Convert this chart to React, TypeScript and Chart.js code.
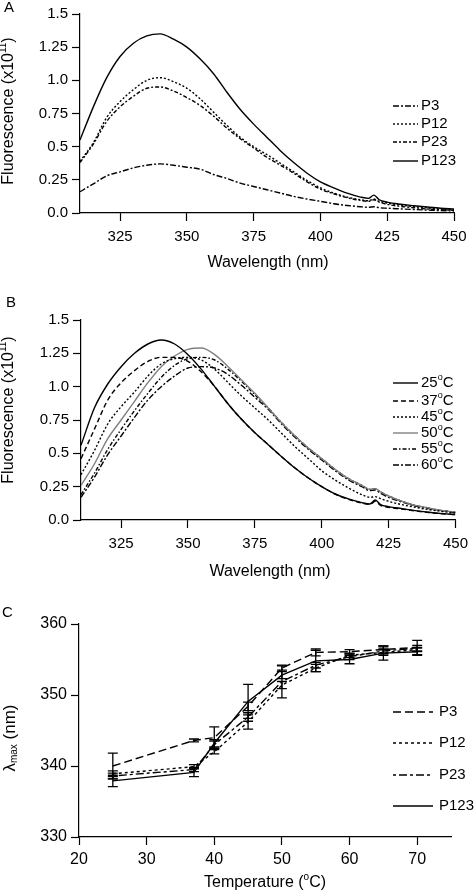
import React, { useEffect, useRef } from 'react';
import { Chart, registerables } from 'chart.js';

Chart.register(...registerables);

const FONT = "'Liberation Sans', Arial, Helvetica, 'DejaVu Sans', sans-serif";

// ---------- Panel A / B : emission spectra ----------
const wavelengths = [310, 315, 320, 325, 330, 335, 340, 345, 350, 355, 360, 365, 370, 375, 380, 385, 390, 395, 400, 405, 410, 415, 418, 420, 422, 425, 430, 435, 440, 445, 450];

const aP3 = [0.16, 0.22, 0.28, 0.31, 0.34, 0.36, 0.37, 0.36, 0.345, 0.33, 0.29, 0.26, 0.225, 0.2, 0.175, 0.15, 0.125, 0.105, 0.088, 0.07, 0.057, 0.047, 0.043, 0.047, 0.04, 0.036, 0.031, 0.026, 0.022, 0.018, 0.015];
const aP12 = [0.39, 0.53, 0.72, 0.84, 0.93, 1.0, 1.02, 0.99, 0.94, 0.86, 0.76, 0.66, 0.57, 0.5, 0.44, 0.375, 0.31, 0.245, 0.19, 0.15, 0.12, 0.1, 0.092, 0.105, 0.088, 0.075, 0.06, 0.048, 0.038, 0.03, 0.025];
const aP23 = [0.38, 0.52, 0.69, 0.8, 0.88, 0.94, 0.95, 0.92, 0.87, 0.81, 0.73, 0.64, 0.56, 0.49, 0.42, 0.36, 0.3, 0.235, 0.18, 0.145, 0.115, 0.095, 0.088, 0.1, 0.082, 0.065, 0.05, 0.04, 0.03, 0.025, 0.02];
const aP123 = [0.55, 0.8, 1.02, 1.18, 1.28, 1.335, 1.35, 1.31, 1.25, 1.16, 1.05, 0.91, 0.78, 0.67, 0.57, 0.47, 0.38, 0.3, 0.235, 0.19, 0.15, 0.12, 0.11, 0.135, 0.1, 0.082, 0.066, 0.055, 0.045, 0.036, 0.03];

const b25 = [0.56, 0.84, 1.02, 1.15, 1.25, 1.32, 1.35, 1.32, 1.24, 1.13, 1.0, 0.87, 0.755, 0.655, 0.565, 0.475, 0.39, 0.315, 0.25, 0.195, 0.158, 0.13, 0.12, 0.15, 0.115, 0.1, 0.085, 0.07, 0.058, 0.048, 0.04];
const b37 = [0.46, 0.68, 0.9, 1.03, 1.12, 1.19, 1.22, 1.22, 1.19, 1.11, 1.0, 0.87, 0.755, 0.655, 0.565, 0.475, 0.39, 0.315, 0.25, 0.195, 0.155, 0.127, 0.117, 0.14, 0.11, 0.095, 0.082, 0.068, 0.056, 0.047, 0.04];
const b45 = [0.34, 0.52, 0.72, 0.85, 0.96, 1.08, 1.17, 1.21, 1.22, 1.2, 1.13, 1.03, 0.93, 0.84, 0.75, 0.65, 0.55, 0.46, 0.37, 0.3, 0.24, 0.19, 0.17, 0.175, 0.16, 0.14, 0.115, 0.095, 0.078, 0.064, 0.052];
const b50 = [0.26, 0.42, 0.61, 0.75, 0.89, 1.03, 1.15, 1.23, 1.28, 1.29, 1.24, 1.15, 1.05, 0.95, 0.84, 0.73, 0.63, 0.54, 0.46, 0.38, 0.31, 0.26, 0.23, 0.235, 0.21, 0.18, 0.14, 0.11, 0.09, 0.07, 0.06];
const b55 = [0.19, 0.35, 0.53, 0.68, 0.82, 0.95, 1.07, 1.16, 1.21, 1.22, 1.2, 1.13, 1.04, 0.94, 0.84, 0.73, 0.63, 0.54, 0.46, 0.38, 0.31, 0.26, 0.23, 0.235, 0.21, 0.18, 0.14, 0.11, 0.09, 0.07, 0.06];
const b60 = [0.17, 0.32, 0.49, 0.63, 0.77, 0.9, 1.0, 1.08, 1.14, 1.15, 1.14, 1.09, 1.01, 0.92, 0.83, 0.72, 0.62, 0.53, 0.45, 0.37, 0.3, 0.25, 0.22, 0.225, 0.2, 0.17, 0.135, 0.105, 0.085, 0.07, 0.055];

const specXTicks = [325, 350, 375, 400, 425, 450];
const specYTicks = [0, 0.25, 0.5, 0.75, 1.0, 1.25, 1.5];
const specYTickLabels = ['0.0', '0.25', '0.5', '0.75', '1.0', '1.25', '1.5'];

const aLabels = ['P3', 'P12', 'P23', 'P123'];
const bTemps = ['25', '37', '45', '50', '55', '60'];

// ---------- Panel C : lambda max vs temperature ----------
const temps = [25, 37, 40, 45, 50, 55, 60, 65, 70];
const cP3 = [340.0, 343.6, 344.0, 348.4, 353.8, 356.0, 356.1, 356.4, 356.7];
const cP12 = [338.9, 339.9, 342.0, 346.2, 351.4, 353.8, 355.6, 356.0, 356.4];
const cP23 = [338.6, 339.5, 343.0, 346.9, 351.9, 354.2, 355.4, 356.2, 356.6];
const cP123 = [337.9, 339.1, 343.2, 349.1, 352.8, 354.8, 355.0, 355.9, 356.1];
const cP3err = [1.8, 0.2, 1.5, 0.6, 0.3, 0.5, 0.3, 0.5, 1.0];
const cP12err = [0.4, 0.3, 0.3, 1.0, 0.5, 0.5, 0.3, 0.4, 0.3];
const cP23err = [0.4, 0.3, 0.5, 0.6, 2.3, 0.4, 0.4, 0.4, 0.4];
const cP123err = [0.8, 0.6, 0.5, 2.4, 0.5, 1.5, 0.6, 1.0, 0.5];
const cXTicks = [20, 30, 40, 50, 60, 70];
const cYTicks = [330, 340, 350, 360];
const cLabels = ['P3', 'P12', 'P23', 'P123'];

type Seg = { t: string; s: number; dy?: number };

function drawSegs(ctx: CanvasRenderingContext2D, segs: Seg[], x: number, y: number, rot: number, center: boolean) {
  ctx.save();
  ctx.translate(x, y);
  if (rot) ctx.rotate(rot);
  ctx.textBaseline = 'middle';
  ctx.textAlign = 'left';
  ctx.fillStyle = '#000';
  const widths = segs.map((sg) => {
    ctx.font = `${sg.s}px ${FONT}`;
    return ctx.measureText(sg.t).width;
  });
  const total = widths.reduce((a, b) => a + b, 0);
  let cx = center ? -total / 2 : 0;
  segs.forEach((sg, i) => {
    ctx.font = `${sg.s}px ${FONT}`;
    ctx.fillText(sg.t, cx, sg.dy || 0);
    cx += widths[i];
  });
  ctx.restore();
}

interface LegendItem { label: Seg[]; dash: number[]; color: string }
interface PanelCfg {
  height: number;
  top: number;
  xMin: number; xMax: number; yMin: number; yMax: number;
  xTicks: number[]; yTicks: number[]; yTickLabels: string[];
  yWidth: number; xHeight: number;
  padding: { left: number; right: number; top: number; bottom: number };
  tickSize: number;
  xTickPad: number;
  smooth: boolean;
  datasets: { xs: number[]; ys: number[]; color: string; dash: number[] }[];
  letter: { t: string; x: number; y: number };
  xTitle: { segs: Seg[]; x: number; y: number };
  yTitle: { segs: Seg[]; x: number; y: number };
  legend: { items: LegendItem[]; x1: number; x2: number; tx: number; ys: number[] };
  errors?: { xs: number[]; ys: number[][]; errs: number[][] };
}

const sup = (base: string, s: string, after: string, size: number): Seg[] => [
  { t: base, s: size },
  { t: s, s: Math.round(size * 0.6), dy: -Math.round(size * 0.35) },
  { t: after, s: size },
];

const aDash = [[6, 2, 2, 2], [2, 2], [4, 2, 2, 2], []];
const bDash = [[], [5, 3], [2, 2], [], [4, 2, 1.5, 2], [6, 2, 2, 2]];
const bColors = ['#000', '#000', '#000', '#808080', '#000', '#000'];
const cDash = [[8, 4], [3, 3], [3, 3, 8, 3], []];

const panelA: PanelCfg = {
  height: 280, top: 0,
  xMin: 310, xMax: 450, yMin: 0, yMax: 1.5,
  xTicks: specXTicks, yTicks: specYTicks, yTickLabels: specYTickLabels,
  yWidth: 80, xHeight: 67,
  padding: { left: 0, right: 21, top: 14, bottom: 0 },
  tickSize: 15, xTickPad: 7, smooth: true,
  datasets: [aP3, aP12, aP23, aP123].map((ys, i) => ({ xs: wavelengths, ys, color: '#000', dash: aDash[i] })),
  letter: { t: 'A', x: 4, y: 0 },
  xTitle: { segs: [{ t: 'Wavelength (nm)', s: 16 }], x: 268, y: 263 },
  yTitle: { segs: sup('Fluorescence (x10', '11', ')', 16), x: 9, y: 111 },
  legend: {
    items: aLabels.map((l, i) => ({ label: [{ t: l, s: 15 }], dash: aDash[i], color: '#000' })),
    x1: 393, x2: 418, tx: 421, ys: [106, 124, 142, 161],
  },
};

const panelB: PanelCfg = {
  height: 300, top: 285,
  xMin: 310, xMax: 450, yMin: 0, yMax: 1.5,
  xTicks: specXTicks, yTicks: specYTicks, yTickLabels: specYTickLabels,
  yWidth: 81, xHeight: 65,
  padding: { left: 0, right: 17, top: 35, bottom: 0 },
  tickSize: 15, xTickPad: 7, smooth: true,
  datasets: [b25, b37, b45, b50, b55, b60].map((ys, i) => ({ xs: wavelengths, ys, color: bColors[i], dash: bDash[i] })),
  letter: { t: 'B', x: 6, y: 10 },
  xTitle: { segs: [{ t: 'Wavelength (nm)', s: 16 }], x: 270, y: 287 },
  yTitle: { segs: sup('Fluorescence (x10', '11', ')', 16), x: 9, y: 125 },
  legend: {
    items: bTemps.map((l, i) => ({ label: sup(l, 'o', 'C', 15), dash: bDash[i], color: bColors[i] })),
    x1: 393, x2: 418, tx: 421, ys: [98, 116, 132, 148, 164, 180],
  },
};

const panelC: PanelCfg = {
  height: 305, top: 590,
  xMin: 20, xMax: 75, yMin: 330, yMax: 360,
  xTicks: cXTicks, yTicks: cYTicks, yTickLabels: cYTicks.map(String),
  yWidth: 79, xHeight: 58,
  padding: { left: 0, right: 24, top: 34, bottom: 0 },
  tickSize: 16, xTickPad: 5, smooth: false,
  datasets: [cP3, cP12, cP23, cP123].map((ys, i) => ({ xs: temps, ys, color: '#000', dash: cDash[i] })),
  letter: { t: 'C', x: 2, y: 15 },
  xTitle: { segs: sup('Temperature (', 'o', 'C)', 16), x: 265, y: 293 },
  yTitle: {
    segs: [{ t: '\u03bb', s: 17 }, { t: 'max', s: 10, dy: 4 }, { t: ' (nm)', s: 17 }],
    x: 10, y: 148,
  },
  legend: {
    items: cLabels.map((l, i) => ({ label: [{ t: l, s: 15 }], dash: cDash[i], color: '#000' })),
    x1: 393, x2: 433, tx: 439, ys: [122, 153, 185, 216],
  },
  errors: { xs: temps, ys: [cP3, cP12, cP23, cP123], errs: [cP3err, cP12err, cP23err, cP123err] },
};

function buildChart(canvas: HTMLCanvasElement, cfg: PanelCfg) {
  const decor = {
    id: 'decor',
    afterDatasetsDraw(chart: any) {
      if (!cfg.errors) return;
      const ctx: CanvasRenderingContext2D = chart.ctx;
      const xs = chart.scales.x;
      const ys = chart.scales.y;
      ctx.save();
      ctx.strokeStyle = '#000';
      ctx.lineWidth = 1.3;
      ctx.setLineDash([]);
      cfg.errors.ys.forEach((serie, si) => {
        serie.forEach((v, j) => {
          const e = cfg.errors!.errs[si][j];
          const px = xs.getPixelForValue(cfg.errors!.xs[j]);
          const y1 = ys.getPixelForValue(v - e);
          const y2 = ys.getPixelForValue(v + e);
          ctx.beginPath();
          ctx.moveTo(px, y1); ctx.lineTo(px, y2);
          ctx.moveTo(px - 5, y1); ctx.lineTo(px + 5, y1);
          ctx.moveTo(px - 5, y2); ctx.lineTo(px + 5, y2);
          ctx.stroke();
        });
      });
      ctx.restore();
    },
    afterDraw(chart: any) {
      const ctx: CanvasRenderingContext2D = chart.ctx;
      ctx.save();
      ctx.fillStyle = '#000';
      ctx.font = `15px ${FONT}`;
      ctx.textBaseline = 'top';
      ctx.textAlign = 'left';
      ctx.fillText(cfg.letter.t, cfg.letter.x, cfg.letter.y);
      drawSegs(ctx, cfg.xTitle.segs, cfg.xTitle.x, cfg.xTitle.y, 0, true);
      drawSegs(ctx, cfg.yTitle.segs, cfg.yTitle.x, cfg.yTitle.y, -Math.PI / 2, true);
      const lg = cfg.legend;
      lg.items.forEach((it, i) => {
        const y = lg.ys[i];
        ctx.save();
        ctx.strokeStyle = it.color;
        ctx.lineWidth = 1.4;
        ctx.setLineDash(it.dash);
        ctx.beginPath();
        ctx.moveTo(lg.x1, y);
        ctx.lineTo(lg.x2, y);
        ctx.stroke();
        ctx.restore();
        drawSegs(ctx, it.label, lg.tx, y, 0, false);
      });
      ctx.restore();
    },
  };

  const axisCommon = () => ({
    type: 'linear' as const,
    grid: { drawOnChartArea: false, drawTicks: true, tickLength: 8, tickColor: '#000', tickWidth: 1.2, color: '#000' },
    border: { display: true, color: '#000', width: 1.2 },
    title: { display: false },
  });

  return new Chart(canvas, {
    type: 'line',
    data: {
      datasets: cfg.datasets.map((d) => ({
        data: d.xs.map((x, i) => ({ x, y: d.ys[i] })),
        borderColor: d.color,
        borderWidth: 1.4,
        borderDash: d.dash,
        fill: false,
        pointRadius: 0,
        pointHoverRadius: 0,
        cubicInterpolationMode: cfg.smooth ? ('monotone' as const) : ('default' as const),
        tension: 0,
      })),
    },
    options: {
      animation: false,
      responsive: false,
      maintainAspectRatio: false,
      events: [],
      layout: { padding: cfg.padding },
      plugins: { legend: { display: false }, tooltip: { enabled: false }, title: { display: false } },
      scales: {
        x: {
          ...axisCommon(),
          min: cfg.xMin,
          max: cfg.xMax,
          afterBuildTicks: (s: any) => { s.ticks = cfg.xTicks.map((v) => ({ value: v })); },
          afterFit: (s: any) => { s.height = cfg.xHeight; },
          ticks: {
            color: '#000', font: { family: FONT, size: cfg.tickSize }, padding: cfg.xTickPad,
            autoSkip: false, maxRotation: 0, minRotation: 0,
            callback: (v: any) => String(v),
          },
        },
        y: {
          ...axisCommon(),
          min: cfg.yMin,
          max: cfg.yMax,
          afterBuildTicks: (s: any) => { s.ticks = cfg.yTicks.map((v) => ({ value: v })); },
          afterFit: (s: any) => { s.width = cfg.yWidth; },
          ticks: {
            color: '#000', font: { family: FONT, size: cfg.tickSize }, padding: 4,
            autoSkip: false,
            callback: (_v: any, i: number) => cfg.yTickLabels[i],
          },
        },
      },
    },
    plugins: [decor],
  } as any);
}

export default function App() {
  const aRef = useRef<HTMLCanvasElement>(null);
  const bRef = useRef<HTMLCanvasElement>(null);
  const cRef = useRef<HTMLCanvasElement>(null);

  useEffect(() => {
    const charts = [
      buildChart(aRef.current!, panelA),
      buildChart(bRef.current!, panelB),
      buildChart(cRef.current!, panelC),
    ];
    return () => charts.forEach((c) => c.destroy());
  }, []);

  const cs = (top: number): React.CSSProperties => ({ position: 'absolute', left: 0, top, display: 'block' });

  return (
    <div style={{ position: 'absolute', left: 0, top: 0, width: 475, height: 895, background: '#fff', overflow: 'hidden' }}>
      <canvas ref={aRef} width={475} height={panelA.height} style={cs(panelA.top)} />
      <canvas ref={bRef} width={475} height={panelB.height} style={cs(panelB.top)} />
      <canvas ref={cRef} width={475} height={panelC.height} style={cs(panelC.top)} />
    </div>
  );
}
